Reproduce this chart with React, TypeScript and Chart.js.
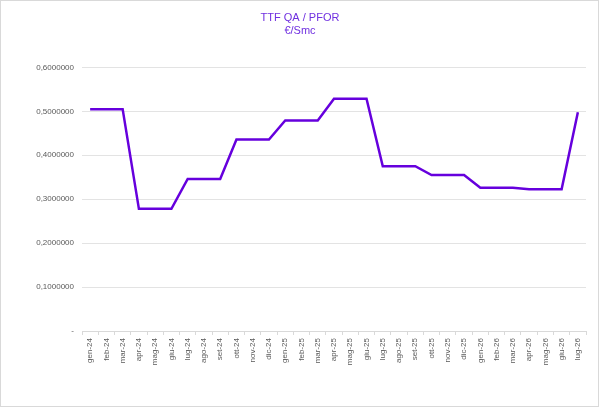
import { Chart, registerables } from 'chart.js';
import { useEffect, useRef } from 'react';

Chart.register(...registerables);

const categories = [
  'gen-24', 'feb-24', 'mar-24', 'apr-24', 'mag-24', 'giu-24', 'lug-24', 'ago-24',
  'set-24', 'ott-24', 'nov-24', 'dic-24', 'gen-25', 'feb-25', 'mar-25', 'apr-25',
  'mag-25', 'giu-25', 'lug-25', 'ago-25', 'set-25', 'ott-25', 'nov-25', 'dic-25',
  'gen-26', 'feb-26', 'mar-26', 'apr-26', 'mag-26', 'giu-26', 'lug-26',
];

const ttfValues = [
  0.505, 0.505, 0.505, 0.278, 0.278, 0.278, 0.346, 0.346,
  0.346, 0.436, 0.436, 0.436, 0.479, 0.479, 0.479, 0.5285,
  0.5285, 0.5285, 0.375, 0.375, 0.375, 0.355, 0.355, 0.355,
  0.326, 0.326, 0.326, 0.3225, 0.3225, 0.3225, 0.498,
];

const titleLines = ['TTF QA / PFOR', '€/Smc'];

const yMin = 0;
const yMax = 0.6;
const yStep = 0.1;

const FONT = "'Liberation Sans', Arial, sans-serif";

const App = () => {
  const canvasRef = useRef<HTMLCanvasElement>(null);
  const chartRef = useRef<Chart | null>(null);

  useEffect(() => {
    const ctx = canvasRef.current?.getContext('2d');
    if (!ctx) return;
    if (chartRef.current) chartRef.current.destroy();

    chartRef.current = new Chart(ctx, {
      type: 'line',
      data: {
        labels: categories,
        datasets: [
          {
            label: 'TTF QA / PFOR',
            data: ttfValues,
            borderColor: '#6600DD',
            borderWidth: 2.5,
            pointRadius: 0,
            tension: 0,
            fill: false,
          },
        ],
      },
      options: {
        animation: false,
        responsive: false,
        // symmetric side padding keeps the title centred on the canvas
        layout: { padding: { left: 14, right: 14, top: 0, bottom: 0 } },
        plugins: {
          legend: { display: false },
          tooltip: { enabled: false },
          title: {
            display: true,
            text: titleLines,
            color: '#7030E0',
            font: { family: FONT, size: 11, weight: 'normal', lineHeight: 1.2 },
            padding: { top: 11, bottom: 30 },
          },
        },
        scales: {
          x: {
            offset: true,
            grid: {
              offset: true,
              drawOnChartArea: false,
              drawTicks: true,
              tickLength: 4,
              color: '#d9d9d9',
            },
            border: { display: true, color: '#d9d9d9' },
            ticks: {
              autoSkip: false,
              minRotation: 90,
              maxRotation: 90,
              padding: 3,
              color: '#595959',
              font: { family: FONT, size: 8 },
            },
            afterFit: (s: any) => {
              s.height = 77;
            },
          },
          y: {
            min: yMin,
            max: yMax,
            grid: { color: '#e3e3e3', drawTicks: false },
            border: { display: false },
            ticks: {
              stepSize: yStep,
              padding: 8,
              color: '#595959',
              font: { family: FONT, size: 8 },
              callback: (v: any) =>
                Number(v) === 0 ? '-' : Number(v).toFixed(7).replace('.', ','),
            },
            afterFit: (s: any) => {
              s.width = 68;
            },
          },
        },
      },
    });

    return () => {
      if (chartRef.current) {
        chartRef.current.destroy();
        chartRef.current = null;
      }
    };
  }, []);

  return (
    <div style={{ position: 'absolute', left: 0, top: 0, width: 600, height: 408, background: '#fff' }}>
      <canvas ref={canvasRef} width={600} height={408} style={{ width: 600, height: 408 }} />
      <div
        style={{
          position: 'absolute',
          left: 0,
          top: 0,
          width: 597,
          height: 405,
          border: '1px solid #d9d9d9',
          pointerEvents: 'none',
        }}
      />
    </div>
  );
};

export default App;
